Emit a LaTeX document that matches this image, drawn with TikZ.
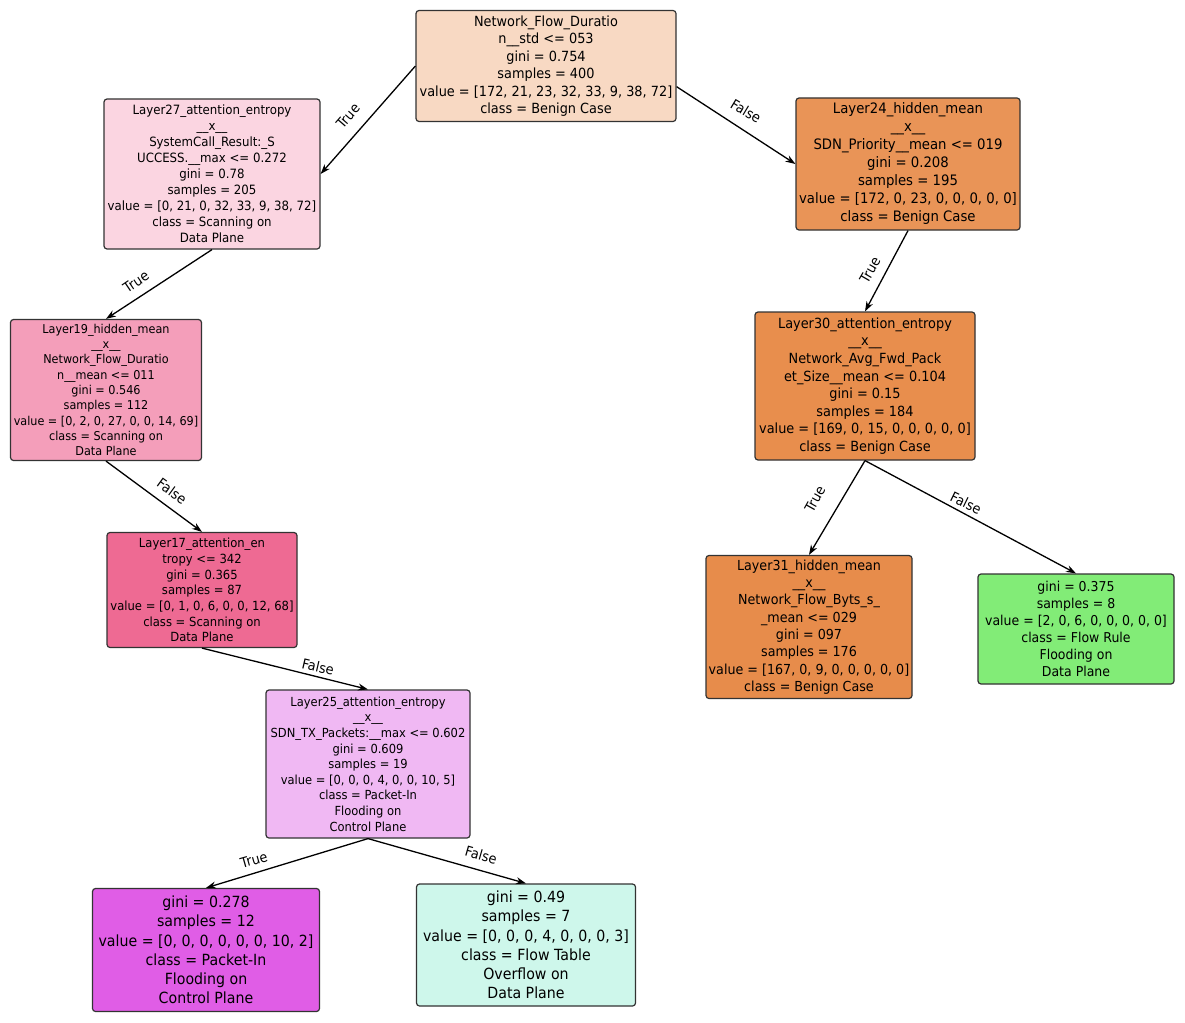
\documentclass[tikz,border=0pt]{standalone}
\usepackage{fontspec}
\setmainfont{DejaVu Sans}[FakeStretch=0.92]
\usetikzlibrary{arrows.meta}
\newcommand\fz[2]{\fontsize{#1}{#2}\selectfont}
\definecolor{cRoot}{HTML}{F8D9C3}
\definecolor{cLa}{HTML}{FBD5E1}
\definecolor{cLb}{HTML}{E99457}
\definecolor{cLc}{HTML}{F49EBA}
\definecolor{cLd}{HTML}{E88E4D}
\definecolor{cLe}{HTML}{EE6A93}
\definecolor{cLf}{HTML}{E78C4B}
\definecolor{cLg}{HTML}{82EC77}
\definecolor{cLh}{HTML}{F0B8F3}
\definecolor{cLi}{HTML}{E05DE6}
\definecolor{cLj}{HTML}{CEF7EB}
\tikzset{
  tbox/.style={draw=black!80, line width=1.2pt, rounded corners=3pt, align=center, inner sep=0pt},
  edge/.style={-{Stealth[length=10pt,width=7pt]}, line width=1.3pt},
  elab/.style={font=\fz{14}{16}, inner sep=0pt}
}
\begin{document}
\begin{tikzpicture}[x=1pt,y=-1pt]
\useasboundingbox[fill=white] (0,0) rectangle (1185,1022);

\node[tbox, fill=cRoot, minimum width=260pt, minimum height=111pt, font=\fz{14}{17.5}] (root) at (546,66)
 {Network\_Flow\_Duratio\\n\_\_std <= 053\\gini = 0.754\\samples = 400\\value = [172, 21, 23, 32, 33, 9, 38, 72]\\class = Benign Case};

\node[tbox, fill=cLa, minimum width=216pt, minimum height=150pt, font=\fz{12.8}{16}] (l27) at (212,174)
 {Layer27\_attention\_entropy\\\_\_x\_\_\\SystemCall\_Result:\_S\\UCCESS.\_\_max <= 0.272\\gini = 0.78\\samples = 205\\value = [0, 21, 0, 32, 33, 9, 38, 72]\\class = Scanning on\\Data Plane};

\node[tbox, fill=cLb, minimum width=224pt, minimum height=132pt, font=\fz{14.4}{18}] (l24) at (908,164)
 {Layer24\_hidden\_mean\\\_\_x\_\_\\SDN\_Priority\_\_mean <= 019\\gini = 0.208\\samples = 195\\value = [172, 0, 23, 0, 0, 0, 0, 0]\\class = Benign Case};

\node[tbox, fill=cLc, minimum width=191pt, minimum height=141pt, font=\fz{12.2}{15.3}] (l19) at (106,390)
 {Layer19\_hidden\_mean\\\_\_x\_\_\\Network\_Flow\_Duratio\\n\_\_mean <= 011\\gini = 0.546\\samples = 112\\value = [0, 2, 0, 27, 0, 0, 14, 69]\\class = Scanning on\\Data Plane};

\node[tbox, fill=cLd, minimum width=220pt, minimum height=148pt, font=\fz{14}{17.6}] (l30) at (865,386)
 {Layer30\_attention\_entropy\\\_\_x\_\_\\Network\_Avg\_Fwd\_Pack\\et\_Size\_\_mean <= 0.104\\gini = 0.15\\samples = 184\\value = [169, 0, 15, 0, 0, 0, 0, 0]\\class = Benign Case};

\node[tbox, fill=cLe, minimum width=190pt, minimum height=115pt, font=\fz{12.6}{15.7}] (l17) at (202,590)
 {Layer17\_attention\_en\\tropy <= 342\\gini = 0.365\\samples = 87\\value = [0, 1, 0, 6, 0, 0, 12, 68]\\class = Scanning on\\Data Plane};

\node[tbox, fill=cLf, minimum width=206pt, minimum height=143pt, font=\fz{13.8}{17.3}] (l31) at (809,627)
 {Layer31\_hidden\_mean\\\_\_x\_\_\\Network\_Flow\_Byts\_s\_\\\_mean <= 029\\gini = 097\\samples = 176\\value = [167, 0, 9, 0, 0, 0, 0, 0]\\class = Benign Case};

\node[tbox, fill=cLg, minimum width=196pt, minimum height=110pt, font=\fz{13.6}{17}] (fr) at (1076,629)
 {gini = 0.375\\samples = 8\\value = [2, 0, 6, 0, 0, 0, 0, 0]\\class = Flow Rule\\Flooding on\\Data Plane};

\node[tbox, fill=cLh, minimum width=204pt, minimum height=148pt, font=\fz{12.5}{15.6}] (l25) at (368,764)
 {Layer25\_attention\_entropy\\\_\_x\_\_\\SDN\_TX\_Packets:\_\_max <= 0.602\\gini = 0.609\\samples = 19\\value = [0, 0, 0, 4, 0, 0, 10, 5]\\class = Packet-In\\Flooding on\\Control Plane};

\node[tbox, fill=cLi, minimum width=227pt, minimum height=123pt, font=\fz{15.4}{19.2}] (pi) at (206,950)
 {gini = 0.278\\samples = 12\\value = [0, 0, 0, 0, 0, 0, 10, 2]\\class = Packet-In\\Flooding on\\Control Plane};

\node[tbox, fill=cLj, minimum width=219pt, minimum height=122pt, font=\fz{15.4}{19.2}] (ft) at (526,945)
 {gini = 0.49\\samples = 7\\value = [0, 0, 0, 4, 0, 0, 0, 3]\\class = Flow Table\\Overflow on\\Data Plane};

\draw[edge] (root.west) -- (l27.east);
\draw[edge] (root.-9) -- (l24.west);
\draw[edge] (l27.south) -- (l19.north);
\draw[edge] (l24.south) -- (l30.north);
\draw[edge] (l19.south) -- (l17.north);
\draw[edge] (l30.south) -- (l31.north);
\draw[edge] (l30.south) -- (fr.north);
\draw[edge] (l17.south) -- (l25.north);
\draw[edge] (l25.south) -- (pi.north);
\draw[edge] (l25.south) -- (ft.north);

\node[elab, rotate=49] (t1) at (348,116) {True};
\node[elab, rotate=-31] (f1) at (746,111) {False};
\node[elab, rotate=34] (t2) at (136,282) {True};
\node[elab, rotate=60] (t3) at (870,270) {True};
\node[elab, rotate=-36] (f2) at (172,491) {False};
\node[elab, rotate=61] (t4) at (815,499) {True};
\node[elab, rotate=-26] (f3) at (966,503) {False};
\node[elab, rotate=-13] (f4) at (318,667) {False};
\node[elab, rotate=16] (t5) at (254,860) {True};
\node[elab, rotate=-16] (f5) at (481,855) {False};
\end{tikzpicture}
\end{document}
